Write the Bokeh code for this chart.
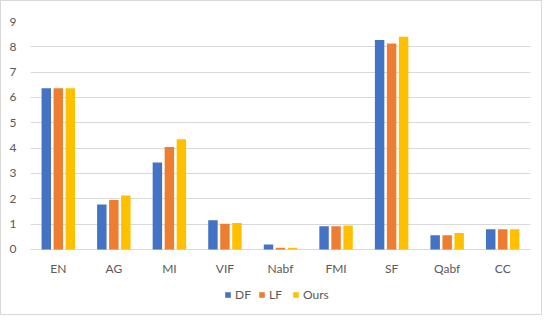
from bokeh.plotting import figure
from bokeh.models import ColumnDataSource, FactorRange, Range1d, Legend, LegendItem, FixedTicker
from bokeh.transform import dodge
from bokeh.embed import file_html
from bokeh.resources import INLINE

metrics = ["EN", "AG", "MI", "VIF", "Nabf", "FMI", "SF", "Qabf", "CC"]
df_vals = [6.37, 1.78, 3.43, 1.15, 0.20, 0.92, 8.27, 0.56, 0.80]
lf_vals = [6.37, 1.95, 4.05, 1.02, 0.07, 0.92, 8.13, 0.56, 0.80]
ours_vals = [6.37, 2.13, 4.35, 1.05, 0.07, 0.95, 8.40, 0.65, 0.80]
y_ticks = [0, 1, 2, 3, 4, 5, 6, 7, 8, 9]

src = ColumnDataSource(dict(m=metrics, df=df_vals, lf=lf_vals, ours=ours_vals))

FONT = "Lato"
TXT = "#595959"

p = figure(width=542, height=315, x_range=FactorRange(*metrics, range_padding=0),
           y_range=Range1d(-2.645, 9), output_backend="svg", toolbar_location=None,
           min_border_left=29, min_border_right=13, min_border_top=20, min_border_bottom=0)
p.x_range.factor_padding = 0
p.outline_line_color = None
p.styles = {"border": "1px solid #D9D9D9"}

w = 0.17
step = 0.216
r1 = p.vbar(x=dodge("m", -step, range=p.x_range), top="df", width=w, source=src,
            color="#4472C4", line_color=None)
r2 = p.vbar(x=dodge("m", 0, range=p.x_range), top="lf", width=w, source=src,
            color="#ED7D31", line_color=None)
r3 = p.vbar(x=dodge("m", step, range=p.x_range), top="ours", width=w, source=src,
            color="#FFC000", line_color=None)

p.yaxis.ticker = FixedTicker(ticks=y_ticks)
p.xaxis.fixed_location = 0
for ax in (p.xaxis, p.yaxis):
    ax.axis_line_color = None
    ax.major_tick_line_color = None
    ax.minor_tick_line_color = None
    ax.major_label_text_font = FONT
    ax.major_label_text_font_size = "12px"
    ax.major_label_text_color = TXT
p.yaxis.major_label_standoff = 8
p.xaxis.major_label_standoff = 6
p.xgrid.grid_line_color = None
p.ygrid.grid_line_color = "#D9D9D9"
p.ygrid.grid_line_width = 1

legend = Legend(items=[LegendItem(label="DF", renderers=[r1]),
                       LegendItem(label="LF", renderers=[r2]),
                       LegendItem(label="Ours", renderers=[r3])],
                orientation="horizontal", location=(194, 14),
                glyph_width=7, glyph_height=7, label_standoff=4, spacing=3,
                padding=0, margin=0, border_line_color=None, background_fill_alpha=0,
                label_text_font=FONT, label_text_font_size="12px", label_text_color=TXT)
p.add_layout(legend, "center")

open("out.html", "w").write(file_html(p, INLINE))
